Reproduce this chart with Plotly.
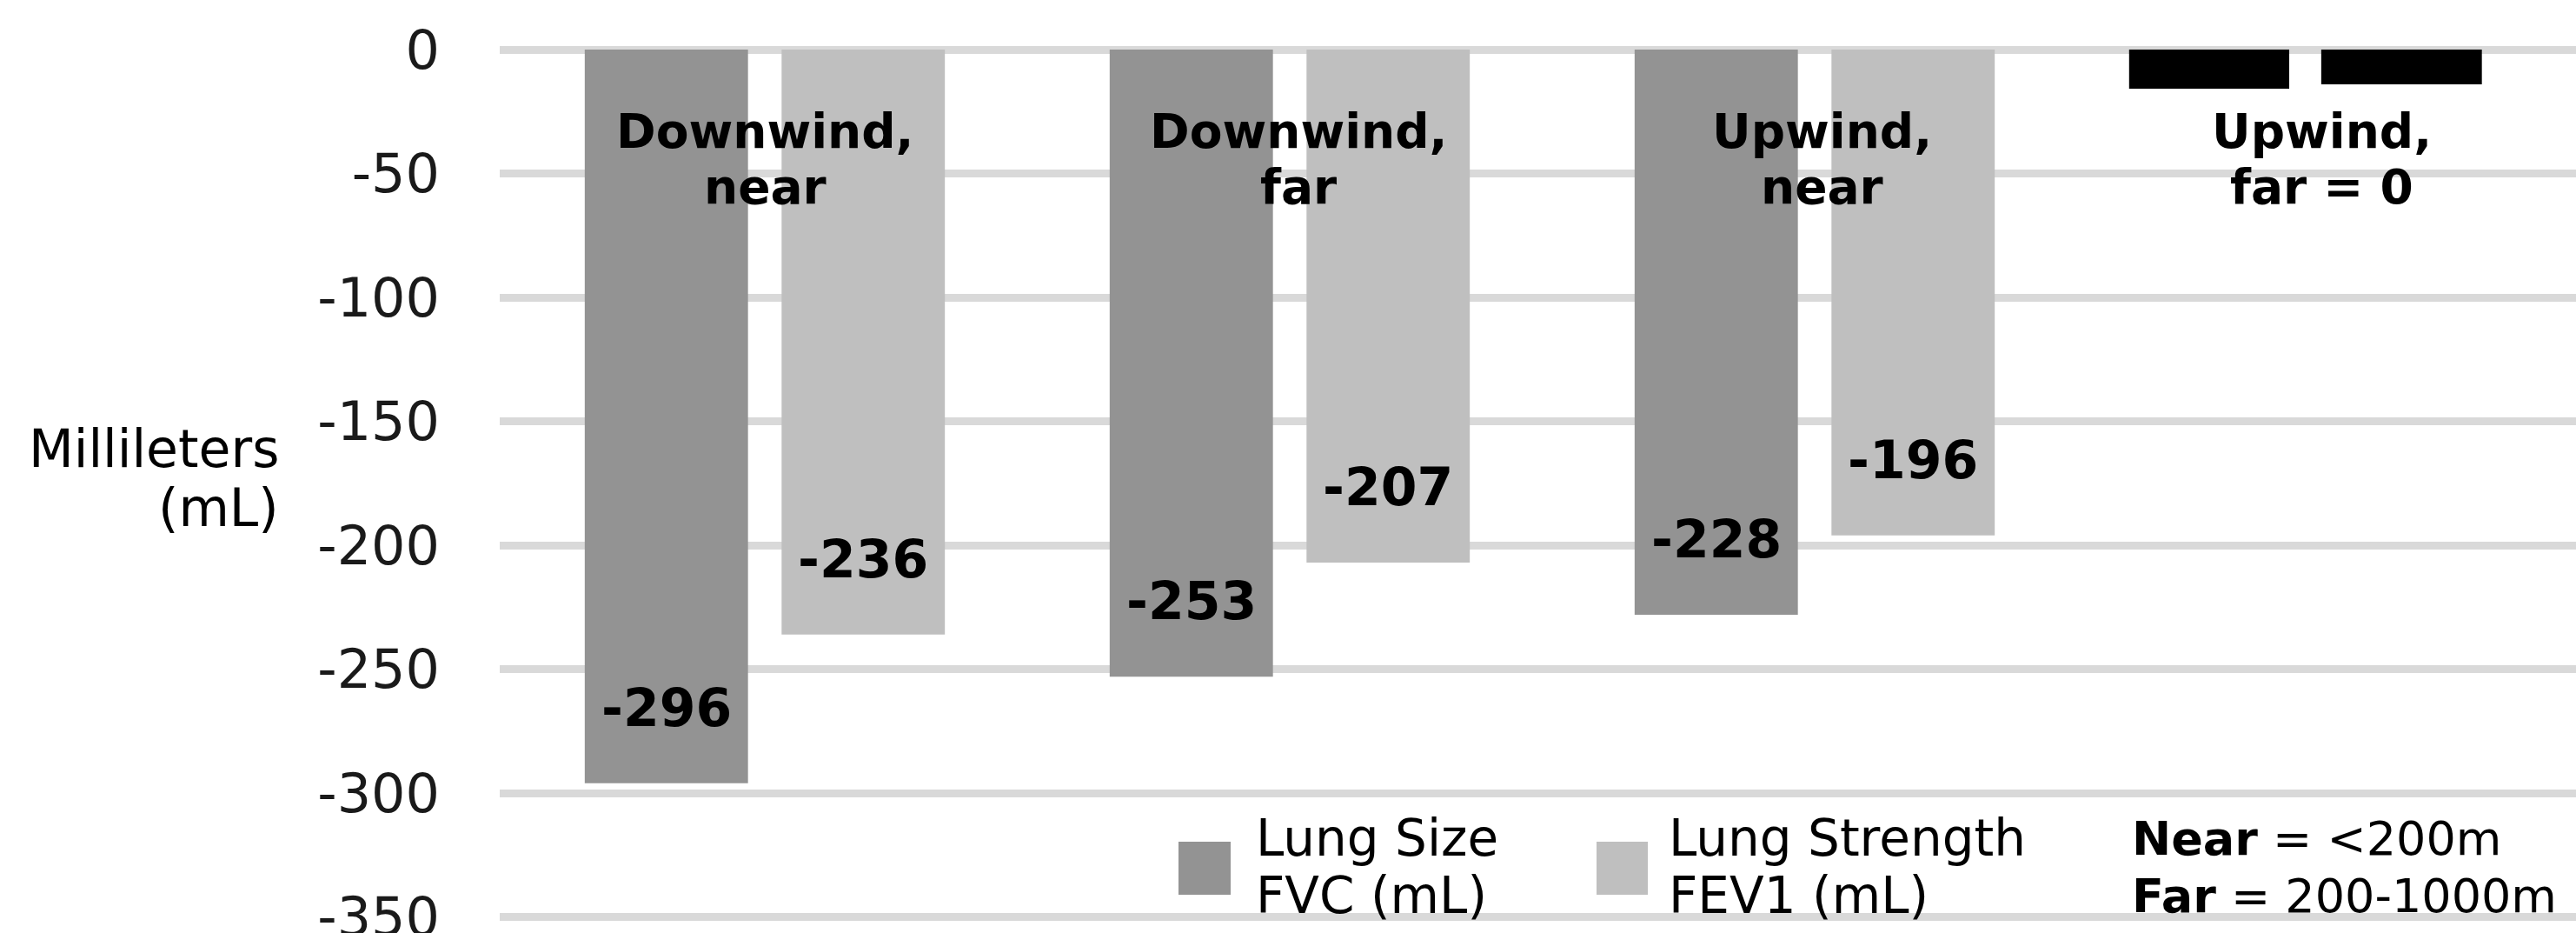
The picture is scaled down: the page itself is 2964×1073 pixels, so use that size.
import plotly.graph_objects as go

# ---------------- data ----------------
categories = ["Downwind, near", "Downwind, far", "Upwind, near", "Upwind, far"]
category_label_lines = [["Downwind,", "near"], ["Downwind,", "far"],
                        ["Upwind,", "near"], ["Upwind,", "far = 0"]]
fvc_values = [-296, -253, -228, 0]
fev1_values = [-236, -207, -196, 0]
zero_marker_values = [-15.8, -14.0]   # black placeholder blocks for "Upwind, far = 0"
y_tick_values = [0, -50, -100, -150, -200, -250, -300, -350]
y_tick_labels = ["0", "-50", "-100", "-150", "-200", "-250", "-300", "-350"]
legend_fvc = ["Lung Size", "FVC (mL)"]
legend_fev1 = ["Lung Strength", "FEV1 (mL)"]
legend_note = ["<b>Near</b> = &lt;200m", "<b>Far</b> = 200-1000m"]
y_title_lines = ["Millileters", "(mL)"]

# ---------------- styling / layout ----------------
W, H = 2964, 1073
L = 575                       # left edge of plot area (px)
CAT_PX = 604                  # px per category
FIRST_CENTER = 880            # px of first category centre
x0 = -(FIRST_CENTER - L) / CAT_PX
x_range = [x0, x0 + (W - L) / CAT_PX]
y_range = [-356.4, 20.0]
ZERO_PX = 57

DARK = "#939393"
LIGHT = "#bfbfbf"
GRID = "#d9d9d9"
FONT = "DejaVu Sans"

BAR_W = 0.311
DARK_OFF = -0.343
LIGHT_OFF = 0.032


def px(x):
    return (x - L) / (W - L)


def py(y):
    return 1 - y / H


fig = go.Figure()
fig.add_trace(go.Bar(x=categories, y=fvc_values, name="Lung Size FVC (mL)",
                     marker=dict(color=DARK, line=dict(width=0)),
                     offset=DARK_OFF, width=BAR_W, showlegend=False))
fig.add_trace(go.Bar(x=categories, y=fev1_values, name="Lung Strength FEV1 (mL)",
                     marker=dict(color=LIGHT, line=dict(width=0)),
                     offset=LIGHT_OFF, width=BAR_W, showlegend=False))
# black zero-value placeholder blocks
fig.add_trace(go.Bar(x=[categories[3]], y=[zero_marker_values[0]],
                     marker=dict(color="#000000", line=dict(width=0)),
                     offset=-0.401, width=0.305, showlegend=False))
fig.add_trace(go.Bar(x=[categories[3]], y=[zero_marker_values[1]],
                     marker=dict(color="#000000", line=dict(width=0)),
                     offset=-0.035, width=0.306, showlegend=False))

annotations = []
# data labels
for series, off in ((fvc_values, DARK_OFF), (fev1_values, LIGHT_OFF)):
    for j, v in enumerate(series):
        if v == 0:
            continue
        annotations.append(dict(
            x=j + off + BAR_W / 2, y=v, xref="x", yref="y",
            text=f"<b>{v}</b>", showarrow=False, yanchor="middle", yshift=87,
            font=dict(family=FONT, size=60, color="#000000")))

# category labels near the top
label_xshift = [0, 10, 8, -21]
for j, lines in enumerate(category_label_lines):
    for line, yc in zip(lines, (151, 215)):
        annotations.append(dict(
            x=j, y=0, xref="x", yref="y", text=f"<b>{line}</b>", showarrow=False,
            xanchor="center", yanchor="middle", yshift=-(yc - ZERO_PX),
            xshift=label_xshift[j],
            font=dict(family=FONT, size=55, color="#000000")))

# y axis title (right aligned, two lines)
for line, yc in zip(y_title_lines, (516, 584)):
    annotations.append(dict(
        x=px(323), y=py(yc), xref="paper", yref="paper", text=line,
        showarrow=False, xanchor="right", yanchor="middle",
        font=dict(family=FONT, size=60, color="#000000")))

# legend text
for lines, xl, size in ((legend_fvc, 1443, 58), (legend_fev1, 1918, 58), (legend_note, 2451, 54)):
    for line, yc in zip(lines, (964, 1030)):
        annotations.append(dict(
            x=px(xl), y=py(yc), xref="paper", yref="paper", text=line,
            showarrow=False, xanchor="left", yanchor="middle",
            font=dict(family=FONT, size=size, color="#000000")))

shapes = [
    dict(type="rect", xref="paper", yref="paper", x0=px(1356), x1=px(1416),
         y0=py(1029), y1=py(968), fillcolor=DARK, line=dict(width=0)),
    dict(type="rect", xref="paper", yref="paper", x0=px(1837), x1=px(1896),
         y0=py(1029), y1=py(968), fillcolor=LIGHT, line=dict(width=0)),
]

fig.update_layout(
    width=W, height=H,
    margin=dict(l=L, r=0, t=0, b=0, autoexpand=False),
    paper_bgcolor="white", plot_bgcolor="white",
    barmode="overlay",
    showlegend=False,
    annotations=annotations,
    shapes=shapes,
    font=dict(family=FONT, color="#000000"),
)
fig.update_xaxes(range=x_range, showgrid=False, zeroline=False, automargin=False,
                 showticklabels=False, ticks="", showline=False,
                 categoryorder="array", categoryarray=categories)
fig.update_yaxes(range=y_range, tickvals=y_tick_values, ticktext=y_tick_labels,
                 showgrid=True, gridcolor=GRID, gridwidth=9, zeroline=False,
                 automargin=False, showline=False, ticks="", ticklabelstandoff=68,
                 ticklabeloverflow="allow",
                 tickfont=dict(family=FONT, size=62, color="#1a1a1a"))

fig.write_html(
    "out.html",
    config={"displayModeBar": False},
    post_script="document.body.style.margin='0';document.body.style.overflow='hidden';",
)
